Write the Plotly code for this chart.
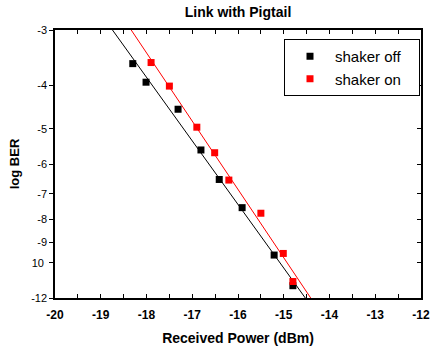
import numpy as np
import plotly.graph_objects as go

# ---- data ----
off_power = [-18.30, -18.01, -17.31, -16.81, -16.41, -15.91, -15.21, -14.80]
off_logber = [-3.57, -3.93, -4.52, -5.58, -6.50, -7.52, -9.61, -11.26]
on_power = [-17.90, -17.50, -16.90, -16.51, -16.20, -15.50, -15.01, -14.80]
on_logber = [-3.55, -4.01, -4.96, -5.66, -6.52, -7.74, -9.53, -11.02]

x_ticks = [-20, -19, -18, -17, -16, -15, -14, -13, -12]
x_ticktext = ["<b>-20</b>", "<b>-19</b>", "<b>-18</b>", "<b>-17</b>", "<b>-16</b>",
              "<b>-15</b>", "<b>-14</b>", "<b>-13</b>", "<b>-12</b>"]
y_ticks = [-3, -4, -5, -6, -7, -8, -9, -10, -12]
y_ticktext = ["-3", "-4", "-5", "-6", "-7", "-8", "-9", "10\u00a0", "-12"]
series_names = ["shaker off\u00a0\u00a0\u00a0", "shaker on"]

FONT = "Liberation Sans, Arial, sans-serif"

W, H = 431, 349
ML, MT, MR, MB = 55, 30, 10, 51


def fit_line(px, py):
    # linear fit in the log(-logBER) domain (straight on this BER axis)
    k, b = np.polyfit(np.array(px), np.log10(-np.array(py)), 1)
    xs = np.linspace(x_ticks[0], x_ticks[-1], 200)
    return xs, 10 ** (k * xs + b)


series = [(off_power, off_logber, "black", series_names[0]),
          (on_power, on_logber, "#ff0000", series_names[1])]

fig = go.Figure()

for px, py, col, name in series:
    xs, ys = fit_line(px, py)
    fig.add_trace(go.Scatter(x=xs, y=ys, mode="lines",
                             line=dict(color=col, width=1),
                             showlegend=False, hoverinfo="skip"))

for px, py, col, name in series:
    fig.add_trace(go.Scatter(x=px, y=[-v for v in py], mode="markers",
                             marker=dict(symbol="square", size=7, color=col),
                             name=name))

# invisible trace on the right-hand axis so that it is drawn
fig.add_trace(go.Scatter(x=off_power, y=[-v for v in off_logber], yaxis="y2",
                         mode="markers", marker=dict(opacity=0),
                         showlegend=False, hoverinfo="skip"))

yr = [np.log10(-y_ticks[-1]), np.log10(-y_ticks[0])]
plot_w = W - ML - MR
plot_h = H - MT - MB

fig.update_layout(
    width=W, height=H,
    margin=dict(l=ML, r=MR, t=MT, b=MB),
    paper_bgcolor="white", plot_bgcolor="white",
    font=dict(family=FONT, color="black"),
    title=dict(text="<b>Link with Pigtail</b>", font=dict(size=14, family=FONT),
               x=0.5, xref="paper", y=1 - 12 / H, yref="container",
               xanchor="center", yanchor="middle", automargin=False),
    xaxis=dict(range=[x_ticks[0], x_ticks[-1]], tickvals=x_ticks,
               ticktext=x_ticktext, automargin=False, ticklabelstandoff=5,
               ticks="inside", ticklen=4, tickwidth=1, tickcolor="black",
               showline=True, linecolor="black", linewidth=1.5,
               mirror="allticks", showgrid=False, zeroline=False,
               tickfont=dict(size=12, family=FONT),
               minor=dict(dtick=0.5, ticks="inside", ticklen=3,
                          tickcolor="black", showgrid=False),
               title=dict(text="<b>Received Power (dBm)</b>",
                          font=dict(size=14, family=FONT), standoff=12)),
    yaxis=dict(type="log", range=yr, tickvals=[-v for v in y_ticks],
               ticktext=y_ticktext, ticks="outside", ticklen=4,
               automargin=False,
               tickcolor="black", showline=True, linecolor="black",
               linewidth=1.5, mirror=True, showgrid=False, zeroline=False,
               tickfont=dict(size=11, family=FONT),
               title=dict(text="<b>log BER</b>",
                          font=dict(size=13, family=FONT), standoff=9)),
    yaxis2=dict(type="log", range=yr, tickvals=[-v for v in y_ticks],
                overlaying="y", side="right", ticks="inside", ticklen=4,
                automargin=False,
                tickcolor="black", showticklabels=False, showline=False,
                showgrid=False, zeroline=False),
    legend=dict(x=(284 - ML) / plot_w, y=(MT + plot_h - 67.5) / plot_h,
                xanchor="left", yanchor="middle", bgcolor="white",
                bordercolor="black", borderwidth=1,
                font=dict(size=15, family=FONT),
                itemwidth=40, tracegroupgap=0),
    showlegend=True,
)

# remove the browser's default 8px body margin so the figure sits at (0, 0)
fig.write_html("out.html",
               config={"displayModeBar": False},
               post_script="document.body.style.margin='0';"
                           "document.body.style.overflow='hidden';")
